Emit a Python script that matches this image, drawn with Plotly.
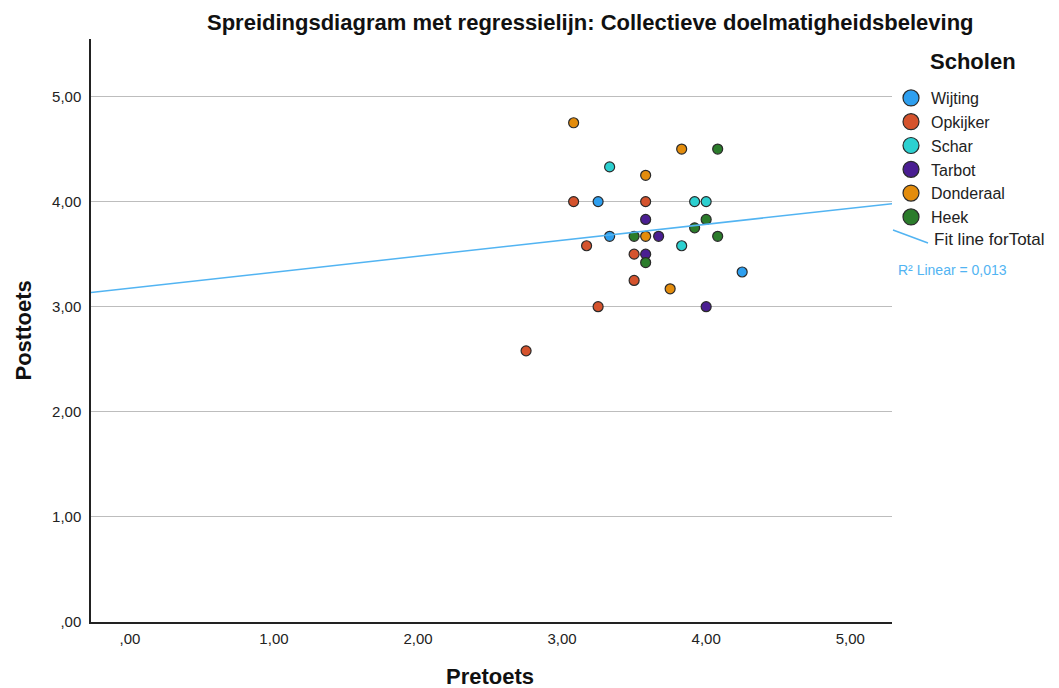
import numpy as np
import plotly.graph_objects as go

# Pretoets / Posttoets scores per school
schools = ["Wijting", "Opkijker", "Schar", "Tarbot", "Donderaal", "Heek"]
colors = ["#2E9FEF", "#D5532D", "#2CD0D0", "#4A1E92", "#E38C0C", "#2B7C2B"]

wijting_pre = [3.25, 3.33, 4.25]
wijting_post = [4.00, 3.67, 3.33]
opkijker_pre = [3.08, 3.58, 3.17, 3.50, 3.50, 3.25, 2.75]
opkijker_post = [4.00, 4.00, 3.58, 3.50, 3.25, 3.00, 2.58]
schar_pre = [3.33, 3.92, 4.00, 3.83]
schar_post = [4.33, 4.00, 4.00, 3.58]
tarbot_pre = [3.58, 3.67, 3.58, 4.00]
tarbot_post = [3.83, 3.67, 3.50, 3.00]
donderaal_pre = [3.08, 3.83, 3.58, 3.58, 3.75]
donderaal_post = [4.75, 4.50, 4.25, 3.67, 3.17]
heek_pre = [4.08, 4.00, 3.92, 3.50, 4.08, 3.58]
heek_post = [4.50, 3.83, 3.75, 3.67, 3.67, 3.42]

pre = [wijting_pre, opkijker_pre, schar_pre, tarbot_pre, donderaal_pre, heek_pre]
post = [wijting_post, opkijker_post, schar_post, tarbot_post, donderaal_post, heek_post]

# Reported fit statistic
r2_linear = 0.013

tick_vals = [0, 1, 2, 3, 4, 5]
tick_text = [",00", "1,00", "2,00", "3,00", "4,00", "5,00"]

x_range = [-0.27, 5.29]
y_range = [0, 5.547]

FONT = "Arial, Liberation Sans, sans-serif"
FIT_COLOR = "#52B4F2"

fig = go.Figure()

# Points per school
for name, col, xs, ys in zip(schools, colors, pre, post):
    fig.add_trace(go.Scatter(
        x=xs, y=ys, mode="markers", name=name, showlegend=False,
        marker=dict(size=10, color=col, line=dict(color="#2a2a2a", width=1.2)),
    ))

# Larger legend symbols
for name, col in zip(schools, colors):
    fig.add_trace(go.Scatter(
        x=[None], y=[None], mode="markers", name=name, showlegend=True,
        marker=dict(size=16, color=col, line=dict(color="#2a2a2a", width=1.2)),
    ))

# Linear fit over all schools
all_x = np.concatenate([np.array(a, float) for a in pre])
all_y = np.concatenate([np.array(a, float) for a in post])
slope, intercept = np.polyfit(all_x, all_y, 1)
fit_x = np.array(x_range)
fig.add_trace(go.Scatter(
    x=fit_x, y=intercept + slope * fit_x, mode="lines", showlegend=False,
    line=dict(color=FIT_COLOR, width=1.5), hoverinfo="skip",
))

L, R, T, B = 91, 167, 39, 66
W, H = 1059, 688
pw, ph = W - L - R, H - T - B


def px(xp):
    return (xp - L) / pw


def py(yp):
    return (H - B - yp) / ph


r2_text = f"{r2_linear:.3f}".replace(".", ",")

annotations = [
    dict(text="<b>Spreidingsdiagram met regressielijn: Collectieve doelmatigheidsbeleving</b>",
         x=px(590), y=py(22), xref="paper", yref="paper", showarrow=False,
         xanchor="center", yanchor="middle", font=dict(size=22, color="#111", family=FONT)),
    dict(text="<b>Posttoets</b>", x=px(23), y=0.5, xref="paper", yref="paper",
         showarrow=False, textangle=-90, xanchor="center", yanchor="middle",
         font=dict(size=22, color="#111", family=FONT)),
    dict(text="<b>Pretoets</b>", x=px(490), y=py(676), xref="paper", yref="paper",
         showarrow=False, xanchor="center", yanchor="middle",
         font=dict(size=22, color="#111", family=FONT)),
    dict(text="<b>Scholen</b>", x=px(973), y=py(61), xref="paper", yref="paper",
         showarrow=False, xanchor="center", yanchor="middle",
         font=dict(size=22, color="#111", family=FONT)),
    dict(text="Fit line forTotal", x=px(932), y=py(239), xref="paper", yref="paper",
         showarrow=False, xanchor="left", yanchor="middle",
         font=dict(size=17, color="#222", family=FONT)),
    dict(text="R² Linear = " + r2_text,
         x=px(896), y=py(270), xref="paper", yref="paper",
         showarrow=False, xanchor="left", yanchor="middle",
         font=dict(size=14, color=FIT_COLOR, family=FONT)),
]

shapes = [
    dict(type="line", xref="paper", yref="paper", x0=px(893), y0=py(230), x1=px(928), y1=py(243),
         line=dict(color=FIT_COLOR, width=1.5)),
]

fig.update_layout(
    width=W, height=H,
    margin=dict(l=L, r=R, t=T, b=B),
    paper_bgcolor="white", plot_bgcolor="white",
    font=dict(family=FONT, color="#222"),
    annotations=annotations,
    shapes=shapes,
    legend=dict(x=px(891), y=py(81), xanchor="left", yanchor="top",
                font=dict(size=16, color="#222", family=FONT),
                tracegroupgap=0, bgcolor="rgba(0,0,0,0)"),
    xaxis=dict(range=x_range, tickvals=tick_vals, ticktext=tick_text, showgrid=False,
               zeroline=False, showline=True, linecolor="#222", linewidth=1.5,
               ticks="outside", ticklen=2, tickcolor="rgba(0,0,0,0)",
               tickfont=dict(size=15, color="#222", family=FONT)),
    yaxis=dict(range=y_range, tickvals=tick_vals, ticktext=tick_text, showgrid=True,
               gridcolor="#BDBDBD", gridwidth=1, zeroline=False, showline=True,
               linecolor="#222", linewidth=1.5,
               ticks="outside", ticklen=5, tickcolor="rgba(0,0,0,0)",
               tickfont=dict(size=15, color="#222", family=FONT)),
)

fig.write_html("out.html")
